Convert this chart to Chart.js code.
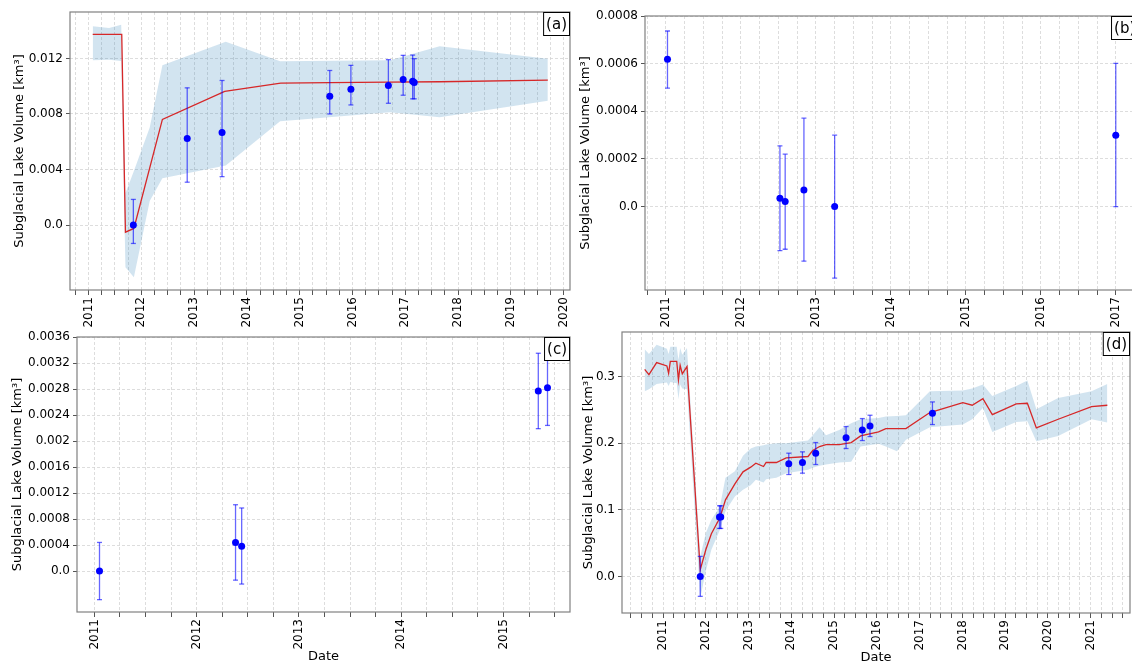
<!DOCTYPE html>
<html>
<head>
<meta charset="utf-8">
<script src="https://cdn.jsdelivr.net/npm/chart.js@4.4.1/dist/chart.umd.min.js"></script>
<style>
    html, body { margin: 0; padding: 0; background: #fff; overflow: hidden; width: 1132px; height: 664px; }
    canvas { position: absolute; }
</style>
</head>
<body>
<canvas id="chartA"></canvas>
<canvas id="chartB"></canvas>
<canvas id="chartC"></canvas>
<canvas id="chartD"></canvas>
<script>
// ---- panel (a) ----
const aLineX = [2011.08, 2011.63, 2011.70, 2011.86, 2012.40, 2013.58, 2014.64, 2015.57, 2016.68, 2017.65, 2019.70];
const aLineY = [0.01373, 0.01373, -0.00051, -0.00024, 0.00761, 0.00962, 0.01022, 0.01025, 0.01029, 0.01032, 0.01044];
const aBandX = [2011.08, 2011.39, 2011.62, 2011.70, 2011.86, 2012.16, 2012.40, 2013.60, 2014.63, 2016.71, 2017.65, 2019.70];
const aBandHi = [0.01431, 0.01419, 0.01443, 0.0023, 0.0039, 0.00703, 0.0115, 0.0132, 0.0118, 0.01186, 0.01287, 0.01198];
const aBandLo = [0.01186, 0.0119, 0.01181, -0.00304, -0.00376, 0.00173, 0.00337, 0.0043, 0.00747, 0.00812, 0.00776, 0.00896];
const aPtX = [2011.85, 2012.87, 2013.53, 2015.57, 2015.97, 2016.68, 2016.96, 2017.14, 2017.17];
const aPtY = [0.0, 0.00624, 0.00667, 0.00928, 0.00978, 0.01005, 0.01048, 0.01036, 0.01027];
const aErrHi = [0.00185, 0.00988, 0.01041, 0.01113, 0.0115, 0.01191, 0.01222, 0.01224, 0.01198];
const aErrLo = [-0.00132, 0.00309, 0.00349, 0.008, 0.00865, 0.00877, 0.00935, 0.00909, 0.00909];
const aYTicks = [0, 0.004, 0.008, 0.012];
const aYLabels = ['0.0', '0.004', '0.008', '0.012'];

// ---- panel (b) ----
const bPtX = [2011.02, 2012.52, 2012.59, 2012.84, 2013.25, 2017.0];
const bPtY = [0.000618, 0.000035, 0.000021, 0.00007, 0.0, 0.0003];
const bErrHi = [0.000737, 0.000255, 0.00022, 0.000371, 0.0003, 0.000601];
const bErrLo = [0.000497, -0.000185, -0.000179, -0.000229, -0.0003, 0.0];
const bYTicks = [0, 0.0002, 0.0004, 0.0006, 0.0008];
const bYLabels = ['0.0', '0.0002', '0.0004', '0.0006', '0.0008'];

// ---- panel (c) ----
const cPtX = [2011.05, 2012.38, 2012.44, 2015.34, 2015.43];
const cPtY = [0.0, 0.00044, 0.00038, 0.00277, 0.00282];
const cErrHi = [0.00044, 0.00102, 0.00097, 0.00335, 0.0034];
const cErrLo = [-0.00044, -0.00014, -0.0002, 0.00219, 0.00224];
const cYTicks = [0, 0.0004, 0.0008, 0.0012, 0.0016, 0.002, 0.0024, 0.0028, 0.0032, 0.0036];
const cYLabels = ['0.0', '0.0004', '0.0008', '0.0012', '0.0016', '0.002', '0.0024', '0.0028', '0.0032', '0.0036'];

// ---- panel (d) ----
const dX = [2010.57, 2010.67, 2010.85, 2011.09, 2011.13, 2011.17, 2011.32, 2011.36, 2011.40, 2011.45, 2011.56,
    2011.87, 2012.00, 2012.13, 2012.33, 2012.46, 2012.68, 2012.87, 2013.05, 2013.17, 2013.35, 2013.41, 2013.65,
    2013.88, 2014.39, 2014.50, 2014.66, 2014.81, 2015.12, 2015.40, 2015.62, 2016.04, 2016.21, 2016.47, 2016.68,
    2017.24, 2018.01, 2018.23, 2018.48, 2018.70, 2019.26, 2019.52, 2019.73, 2020.24, 2021.02, 2021.39];
const dLine = [0.311, 0.303, 0.321, 0.316, 0.305, 0.323, 0.323, 0.295, 0.317, 0.304, 0.315,
    0.010, 0.040, 0.064, 0.088, 0.115, 0.139, 0.157, 0.164, 0.170, 0.165, 0.171, 0.171,
    0.178, 0.180, 0.189, 0.195, 0.198, 0.198, 0.201, 0.211, 0.217, 0.222, 0.222, 0.222,
    0.246, 0.261, 0.257, 0.267, 0.243, 0.259, 0.260, 0.223, 0.236, 0.255, 0.257];
const dHi = [0.341, 0.334, 0.348, 0.342, 0.334, 0.345, 0.345, 0.325, 0.343, 0.333, 0.343,
    0.030, 0.065, 0.085, 0.105, 0.148, 0.158, 0.181, 0.192, 0.195, 0.197, 0.198, 0.200,
    0.200, 0.204, 0.212, 0.224, 0.212, 0.220, 0.230, 0.236, 0.238, 0.240, 0.241, 0.242,
    0.278, 0.279, 0.282, 0.288, 0.271, 0.286, 0.294, 0.251, 0.268, 0.278, 0.289];
const dLo = [0.278, 0.281, 0.289, 0.291, 0.286, 0.292, 0.290, 0.266, 0.288, 0.282, 0.281,
    -0.033, 0.008, 0.040, 0.070, 0.098, 0.120, 0.130, 0.137, 0.145, 0.141, 0.146, 0.148,
    0.155, 0.160, 0.163, 0.166, 0.168, 0.171, 0.172, 0.195, 0.199, 0.195, 0.188, 0.205,
    0.224, 0.228, 0.236, 0.253, 0.217, 0.232, 0.233, 0.203, 0.211, 0.236, 0.231];
const dPtX = [2011.87, 2012.32, 2012.35, 2013.94, 2014.26, 2014.57, 2015.28, 2015.66, 2015.84, 2017.30];
const dPtY = [0.0, 0.089, 0.089, 0.169, 0.171, 0.185, 0.208, 0.220, 0.226, 0.245];
const dErrHi = [0.030, 0.106, 0.106, 0.185, 0.187, 0.201, 0.225, 0.237, 0.242, 0.262];
const dErrLo = [-0.030, 0.072, 0.072, 0.153, 0.155, 0.168, 0.192, 0.204, 0.210, 0.228];
const dYTicks = [0, 0.1, 0.2, 0.3];
const dYLabels = ['0.0', '0.1', '0.2', '0.3'];

const yTitle = 'Subglacial Lake Volume [km³]';

Chart.defaults.font.family = "'DejaVu Sans', sans-serif";
Chart.defaults.color = '#000';

// spines and the (a)/(b)/... box
const framePlugin = {
    id: 'frame',
    afterDraw(chart, args, opts) {
        const { ctx, chartArea: a } = chart;
        ctx.save();
        ctx.strokeStyle = '#808080';
        ctx.lineWidth = 1.2;
        ctx.strokeRect(a.left, a.top, a.right - a.left, a.bottom - a.top);
        if (opts.label) {
            ctx.font = '15px "DejaVu Sans"';
            const w = ctx.measureText(opts.label).width + 6;
            const h = 24;
            ctx.fillStyle = '#fff';
            ctx.fillRect(a.right - w, a.top, w, h);
            ctx.strokeStyle = '#000';
            ctx.lineWidth = 1;
            ctx.strokeRect(a.right - w + 0.5, a.top + 0.5, w - 1, h - 1);
            ctx.fillStyle = '#000';
            ctx.textAlign = 'center';
            ctx.textBaseline = 'middle';
            ctx.fillText(opts.label, a.right - w / 2, a.top + h / 2 + 1);
        }
        ctx.restore();
    }
};

function place(canvas, r) {
    const left = Math.round(r.titleX - 7.8);
    const top = r.T - 12;
    const right = r.R + 12;
    const bottom = r.dateY ? Math.round(r.dateY + 7.8) : r.B + 45;
    canvas.width = right - left;
    canvas.height = bottom - top;
    canvas.style.left = left + 'px';
    canvas.style.top = top + 'px';
    return { yw: r.L - left, xh: bottom - r.B };
}

function xScale(min, max, xh, showTitle) {
    return {
        type: 'linear',
        min: min,
        max: max,
        afterBuildTicks: s => {
            const t = [];
            for (let q = Math.ceil(min * 4); q <= Math.floor(max * 4); q++) t.push({ value: q / 4 });
            s.ticks = t;
        },
        afterFit: s => { s.height = xh; },
        ticks: {
            autoSkip: false,
            maxRotation: 90,
            minRotation: 90,
            padding: 2,
            font: { size: 12 },
            callback: v => Number.isInteger(v) ? String(v) : ''
        },
        grid: { color: '#d4d4d4', lineWidth: 0.8, tickLength: 5, tickColor: '#555', tickWidth: 1 },
        border: { display: false, dash: [3, 2] },
        title: { display: showTitle, text: 'Date', padding: 0, font: { size: 13 } }
    };
}

function yScale(min, max, ticks, labels, yw) {
    return {
        type: 'linear',
        min: min,
        max: max,
        afterBuildTicks: s => { s.ticks = ticks.map(v => ({ value: v })); },
        afterFit: s => { s.width = yw; },
        ticks: {
            autoSkip: false,
            padding: 3,
            font: { size: 12 },
            callback: v => labels[ticks.indexOf(v)]
        },
        grid: { color: '#d4d4d4', lineWidth: 0.8, tickLength: 4, tickColor: '#555', tickWidth: 1 },
        border: { display: false, dash: [3, 2] },
        title: { display: true, text: yTitle, padding: 0, font: { size: 13 } }
    };
}

function buildDatasets(p) {
    const errColor = 'rgba(0, 0, 255, 0.6)';
    const err = [];
    p.ptX.forEach((x, i) => {
        err.push({ x: x, y: p.errLo[i] }, { x: x, y: p.errHi[i] }, { x: x, y: null });
    });
    const ds = [{
        data: p.ptX.map((x, i) => ({ x: x, y: p.ptY[i] })),
        showLine: false,
        pointRadius: 3.5,
        pointBackgroundColor: '#0000ff',
        pointBorderWidth: 0
    }, {
        data: err,
        borderColor: errColor,
        borderWidth: 1.3,
        pointStyle: 'line',
        pointRadius: 2.5,
        pointBorderColor: errColor,
        pointBorderWidth: 1.3,
        spanGaps: false
    }];
    if (p.lineX) {
        ds.push({
            data: p.lineX.map((x, i) => ({ x: x, y: p.lineY[i] })),
            borderColor: '#d62728',
            borderWidth: 1.3,
            pointRadius: 0,
            tension: 0
        }, {
            data: p.bandX.map((x, i) => ({ x: x, y: p.bandHi[i] })),
            borderColor: 'transparent',
            borderWidth: 0,
            pointRadius: 0,
            backgroundColor: 'rgba(31, 119, 180, 0.2)',
            fill: '+1'
        }, {
            data: p.bandX.map((x, i) => ({ x: x, y: p.bandLo[i] })),
            borderColor: 'transparent',
            borderWidth: 0,
            pointRadius: 0,
            fill: false
        });
    }
    return ds;
}

function makePanel(id, r, p) {
    const canvas = document.getElementById(id);
    const sz = place(canvas, r);
    return new Chart(canvas, {
        type: 'line',
        data: { datasets: buildDatasets(p) },
        options: {
            responsive: false,
            animation: false,
            events: [],
            layout: { padding: { top: 12, right: 12, left: 0, bottom: 0 } },
            plugins: {
                legend: { display: false },
                tooltip: { enabled: false },
                frame: { label: p.label }
            },
            scales: {
                x: xScale(p.xMin, p.xMax, sz.xh, !!r.dateY),
                y: yScale(p.yMin, p.yMax, p.yTicks, p.yLabels, sz.yw)
            }
        },
        plugins: [framePlugin]
    });
}

makePanel('chartA', { L: 70, T: 12, R: 570, B: 290, titleX: 20 }, {
    label: '(a)', xMin: 2010.65, xMax: 2020.12, yMin: -0.00467, yMax: 0.01534,
    yTicks: aYTicks, yLabels: aYLabels,
    ptX: aPtX, ptY: aPtY, errHi: aErrHi, errLo: aErrLo,
    lineX: aLineX, lineY: aLineY, bandX: aBandX, bandHi: aBandHi, bandLo: aBandLo
});

makePanel('chartB', { L: 645, T: 16, R: 1139, B: 290, titleX: 586 }, {
    label: '(b)', xMin: 2010.72, xMax: 2017.30, yMin: -0.00035, yMax: 0.0008,
    yTicks: bYTicks, yLabels: bYLabels,
    ptX: bPtX, ptY: bPtY, errHi: bErrHi, errLo: bErrLo
});

makePanel('chartC', { L: 77, T: 337, R: 570, B: 612, titleX: 18, dateY: 656 }, {
    label: '(c)', xMin: 2010.83, xMax: 2015.65, yMin: -0.00063, yMax: 0.0036,
    yTicks: cYTicks, yLabels: cYLabels,
    ptX: cPtX, ptY: cPtY, errHi: cErrHi, errLo: cErrLo
});

makePanel('chartD', { L: 622, T: 332, R: 1130, B: 613, titleX: 589, dateY: 657 }, {
    label: '(d)', xMin: 2010.04, xMax: 2021.92, yMin: -0.055, yMax: 0.367,
    yTicks: dYTicks, yLabels: dYLabels,
    ptX: dPtX, ptY: dPtY, errHi: dErrHi, errLo: dErrLo,
    lineX: dX, lineY: dLine, bandX: dX, bandHi: dHi, bandLo: dLo
});
</script>
</body>
</html>
